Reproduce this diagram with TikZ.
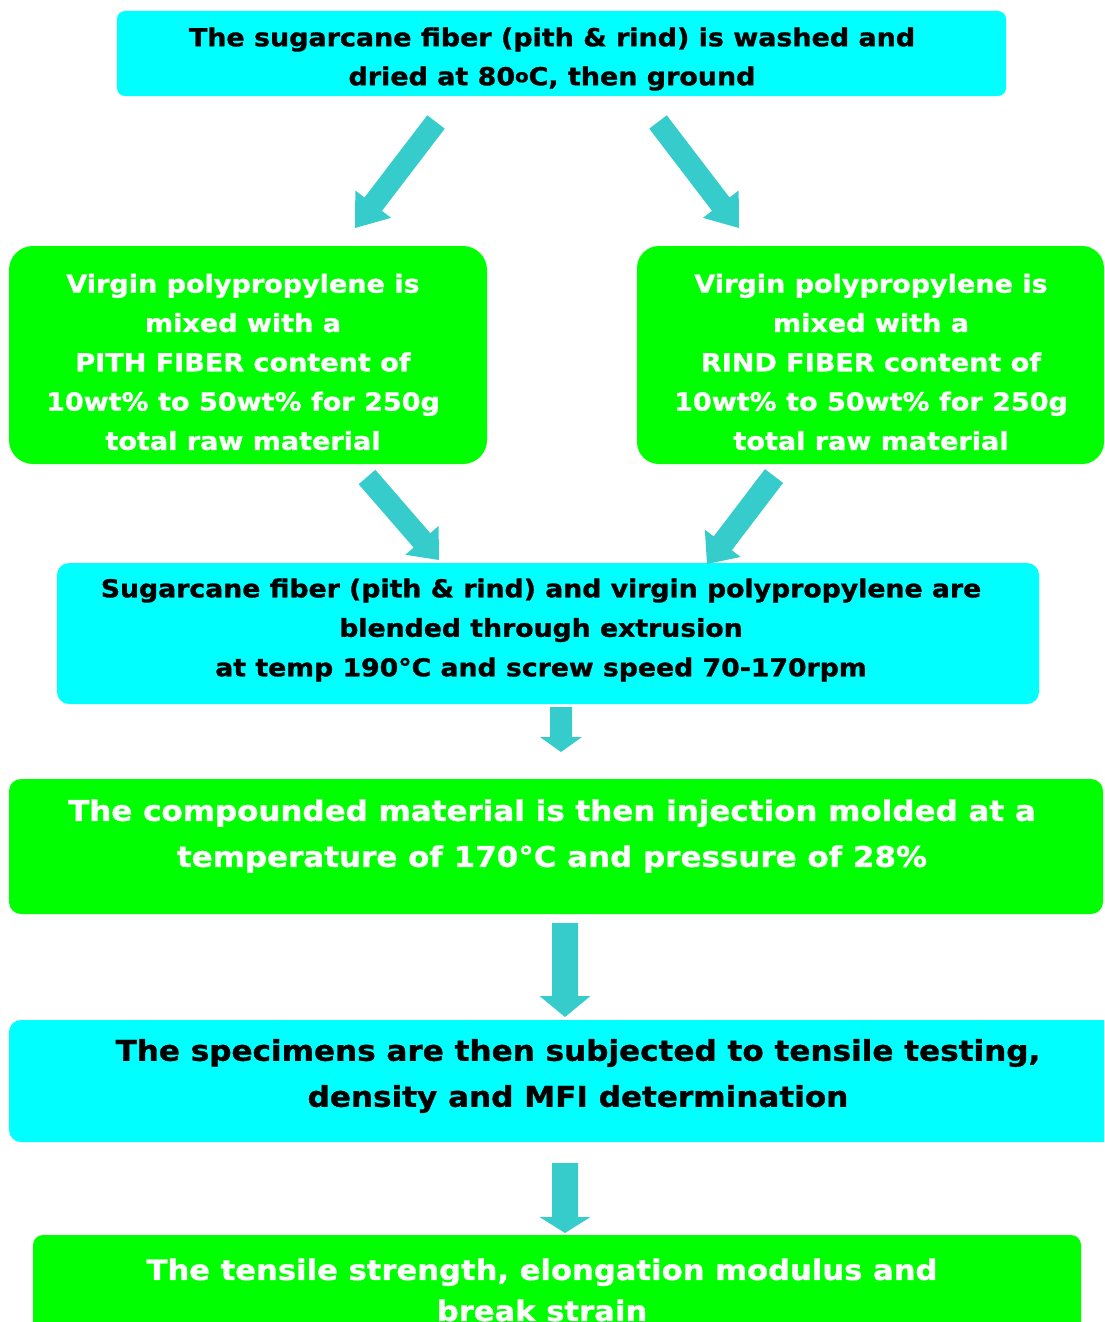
\documentclass[tikz,border=0pt]{standalone}
\usepackage{fontspec}
\setmainfont{DejaVu Sans}[FakeStretch=1.09, BoldFeatures={FakeBold=1.2}]
\usetikzlibrary{calc}
\definecolor{cyanbox}{HTML}{00FFFF}
\definecolor{greenbox}{HTML}{00FF00}
\definecolor{arrowcol}{HTML}{36CCCC}
% #1 start, #2 tip, #3 half shaft width, #4 half head width, #5 head length
\newcommand\fatarr[5]{%
  \path ($(#2)!#5!(#1)$) coordinate (hb);
  \fill[arrowcol] ($(#1)!#3!90:(#2)$) -- ($(hb)!#3!90:(#2)$) -- ($(hb)!#4!90:(#2)$)
    -- (#2) -- ($(hb)!#4!-90:(#2)$) -- ($(hb)!#3!-90:(#2)$) -- ($(#1)!#3!-90:(#2)$) -- cycle;}
\begin{document}
\begin{tikzpicture}[x=1pt,y=-1pt,
  box/.style={rectangle, inner sep=0pt, draw=none},
  cbox/.style={box, fill=cyanbox},
  gbox/.style={box, fill=greenbox},
  btext/.style={inner sep=0pt, align=center, text=black},
  wtext/.style={inner sep=0pt, align=center, text=white}]
\useasboundingbox (0,0) rectangle (1104,1322);
\clip (0,0) rectangle (1104,1322);

% boxes
\node[cbox, rounded corners=8pt, minimum width=889pt, minimum height=85pt] (b1) at (561.5,53.5) {};
\node[gbox, rounded corners=24pt, minimum width=478pt, minimum height=218pt] (b2) at (248,355) {};
\node[gbox, rounded corners=22pt, minimum width=467pt, minimum height=218pt] (b3) at (870.5,355) {};
\node[cbox, rounded corners=12pt, minimum width=982pt, minimum height=141pt] (b4) at (548,633.5) {};
\node[gbox, rounded corners=12pt, minimum width=1094pt, minimum height=135pt] (b5) at (556,846.5) {};
\node[cbox, rounded corners=12pt, minimum width=1111pt, minimum height=122pt] (b6) at (564.5,1081) {};
\node[gbox, rounded corners=10pt, minimum width=1048pt, minimum height=120pt] (b7) at (557,1295) {};

% texts
\node[btext, font=\bfseries\fontsize{24.7}{39}\selectfont] (t1) at (552,59)
  {The sugarcane fiber (pith \& rind) is washed and\\dried at 80\raisebox{3pt}{\fontsize{18}{18}\selectfont o}C, then ground};
\node[wtext, font=\bfseries\fontsize{24.8}{39.3}\selectfont] (t2) at (243,362)
  {Virgin polypropylene is\\mixed with a\\PITH FIBER content of\\10wt\% to 50wt\% for 250g\\total raw material};
\node[wtext, font=\bfseries\fontsize{24.8}{39.3}\selectfont] (t3) at (871,362)
  {Virgin polypropylene is\\mixed with a\\RIND FIBER content of\\10wt\% to 50wt\% for 250g\\total raw material};
\node[btext, font=\bfseries\fontsize{24.5}{39.5}\selectfont] (t4) at (541,630)
  {Sugarcane fiber (pith \& rind) and virgin polypropylene are\\blended through extrusion\\at temp 190°C and screw speed 70-170rpm};
\node[wtext, font=\bfseries\fontsize{28.4}{46}\selectfont] (t5) at (552,836)
  {The compounded material is then injection molded at a\\temperature of 170°C and pressure of 28\%};
\node[btext, font=\bfseries\fontsize{28.5}{46}\selectfont] (t6) at (578,1076)
  {The specimens are then subjected to tensile testing,\\density and MFI determination};
\node[wtext, font=\bfseries\fontsize{28.1}{41}\selectfont] (t7) at (542,1290)
  {The tensile strength, elongation modulus and\\break strain};

% connectors
\coordinate (a1s) at (436,122);  \coordinate (a1t) at (355,228);
\coordinate (a2s) at (658,122);  \coordinate (a2t) at (739,228);
\coordinate (a3s) at (367,477);  \coordinate (a3t) at (439,560);
\coordinate (a4s) at (774,476);  \coordinate (a4t) at (707,564);
\coordinate (a5s) at (561,707);  \coordinate (a5t) at (561,752);
\coordinate (a6s) at (565,923);  \coordinate (a6t) at (565,1017);
\coordinate (a7s) at (565,1163); \coordinate (a7t) at (565,1233);
\fatarr{a1s}{a1t}{11pt}{22.5pt}{30pt}
\fatarr{a2s}{a2t}{11pt}{22.5pt}{30pt}
\fatarr{a3s}{a3t}{11pt}{22pt}{26pt}
\fatarr{a4s}{a4t}{11.4pt}{22.5pt}{26pt}
\fatarr{a5s}{a5t}{11pt}{21pt}{15pt}
\fatarr{a6s}{a6t}{13pt}{25.5pt}{21pt}
\fatarr{a7s}{a7t}{13pt}{25.5pt}{16pt}
\end{tikzpicture}
\end{document}
